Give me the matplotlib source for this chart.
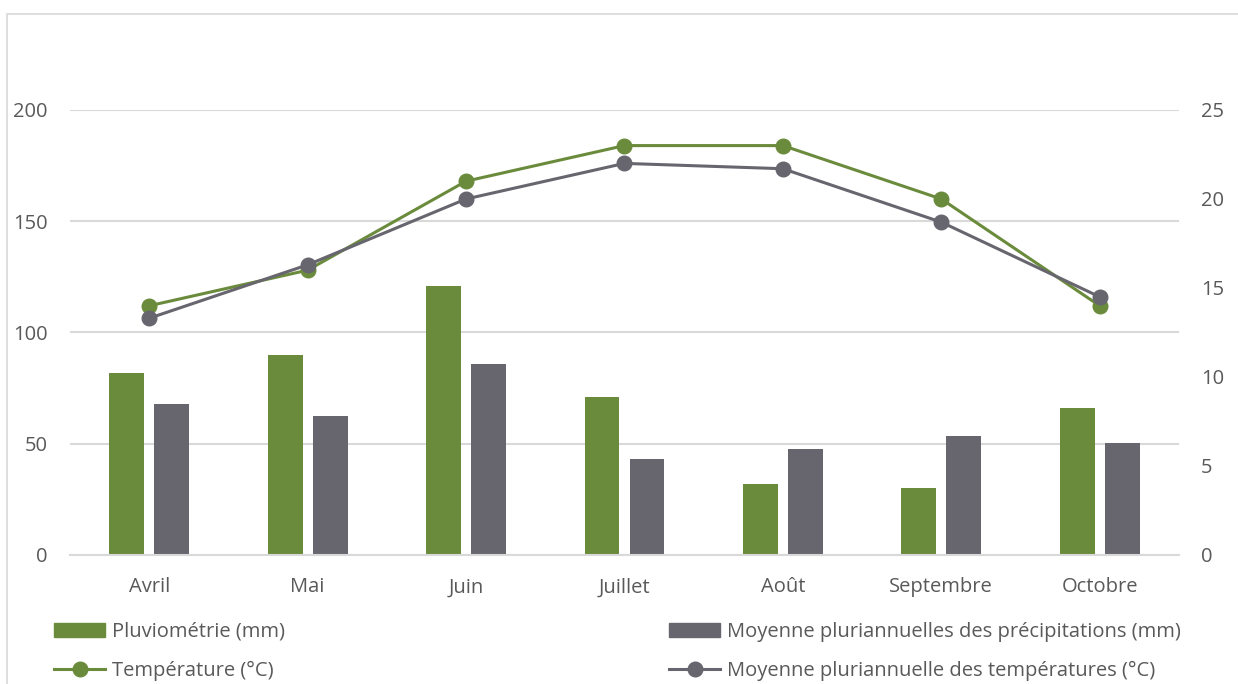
import numpy as np
import matplotlib.pyplot as plt
from matplotlib.patches import Patch, Rectangle
from matplotlib.lines import Line2D

plt.rcParams['font.family'] = ['Open Sans', 'DejaVu Sans']

mois = ["Avril", "Mai", "Juin", "Juillet", "Août", "Septembre", "Octobre"]
pluvio = [82, 90, 121, 71, 32, 30, 66]
pluvio_moy = [68, 62.5, 86, 43, 47.5, 53.5, 50.2]
temp = [14.0, 16.0, 21.0, 23.0, 23.0, 20.0, 14.0]
temp_moy = [13.3, 16.3, 20.0, 22.0, 21.7, 18.7, 14.5]

vert = "#6B8B3C"
gris = "#67666F"
txt = "#595959"
grille = "#D9D9D9"
fs = 14.5

fig = plt.figure(figsize=(12.38, 6.84), dpi=100)
ax = fig.add_axes([0.0565, 0.1886, 0.8958, 0.6506])
ax2 = ax.twinx()

# cadre du graphique
fig.patches.append(Rectangle((7 / 1238, -0.1), 1.2, 1.1 - 14 / 684,
                             transform=fig.transFigure, fill=False,
                             edgecolor=grille, lw=1.2))

x = np.arange(len(mois))
w = 0.22
off = 0.142
ax.bar(x - off, pluvio, w, color=vert, zorder=2)
ax.bar(x + off, pluvio_moy, w, color=gris, zorder=2)

ax2.plot(x, temp, "-o", color=vert, lw=2.2, ms=10.5)
ax2.plot(x, temp_moy, "-o", color=gris, lw=2.2, ms=10.5)

ax.set_xlim(-0.5, len(mois) - 0.5)
ax.set_ylim(0, 200)
ax2.set_ylim(0, 25)
ax.set_yticks([0, 50, 100, 150, 200])
ax2.set_yticks([0, 5, 10, 15, 20, 25])
ax.set_xticks(x)
ax.set_xticklabels(mois)

ax.grid(axis="y", color=grille, lw=1.5, zorder=0)
ax.set_axisbelow(True)
for a in (ax, ax2):
    for s in a.spines.values():
        s.set_visible(False)
    a.tick_params(length=0, labelsize=fs, labelcolor=txt)
ax.spines["bottom"].set_visible(True)
ax.spines["bottom"].set_color(grille)
ax.spines["bottom"].set_linewidth(1.5)
ax.tick_params(axis="y", pad=16)
ax2.tick_params(axis="y", pad=16)
ax.tick_params(axis="x", pad=16)

h1 = [Patch(color=vert), Line2D([], [], color=vert, lw=2.2, marker="o", ms=10.5)]
l1 = ["Pluviométrie (mm)", "Température (°C)"]
h2 = [Patch(color=gris), Line2D([], [], color=gris, lw=2.2, marker="o", ms=10.5)]
l2 = ["Moyenne pluriannuelles des précipitations (mm)",
      "Moyenne pluriannuelle des températures (°C)"]
kw = dict(frameon=False, fontsize=fs, labelcolor=txt, handlelength=2.55,
          handleheight=0.65, handletextpad=0.35, labelspacing=0.95,
          borderpad=0, borderaxespad=0, loc="upper left")
leg1 = fig.legend(h1, l1, bbox_to_anchor=(54 / 1238, 1 - 622 / 684), **kw)
leg2 = fig.legend(h2, l2, bbox_to_anchor=(669 / 1238, 1 - 622 / 684), **kw)

plt.savefig("out.png", dpi=100)
